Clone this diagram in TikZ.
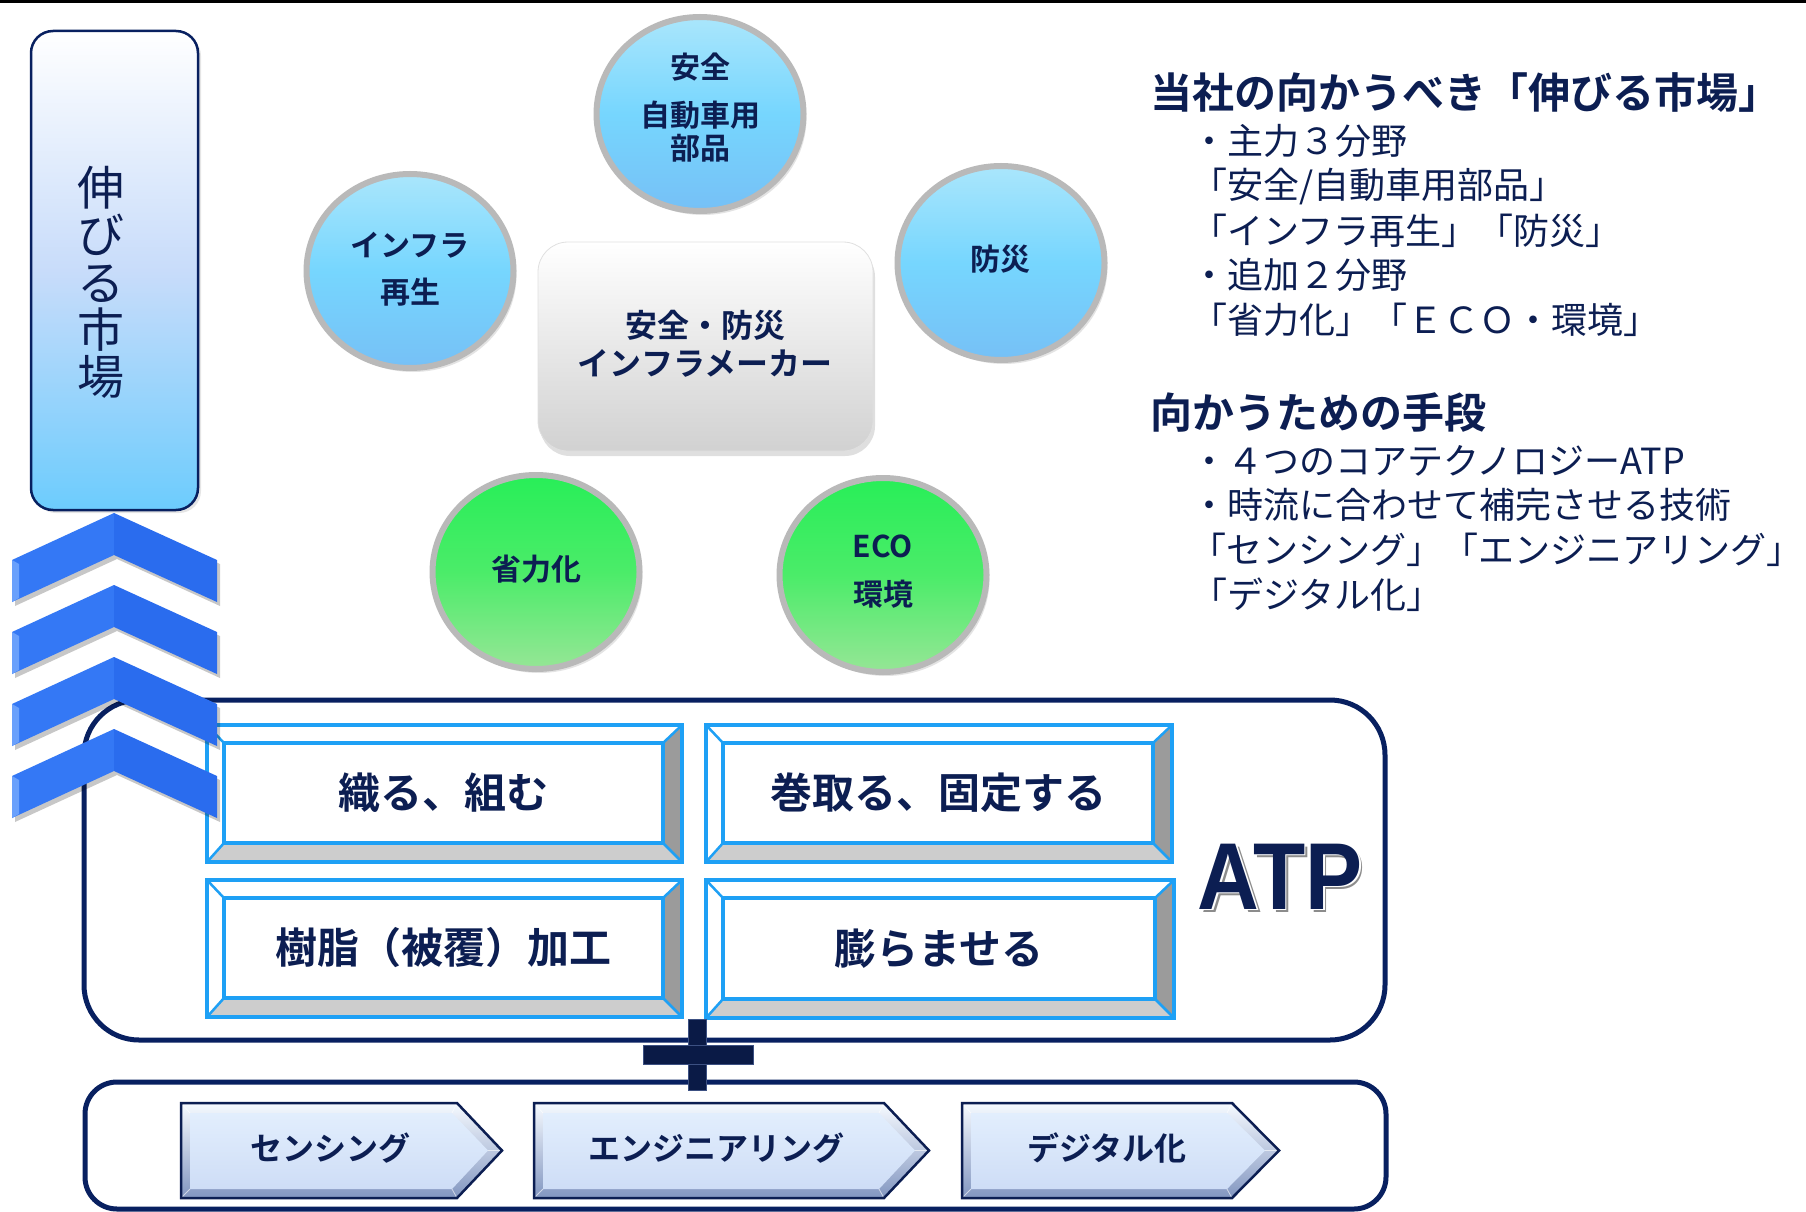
\documentclass[tikz,border=0pt]{standalone}
\usepackage{fontspec}
\usepackage{graphicx}
\setmainfont{Noto Sans CJK JP}[BoldFont={Noto Sans CJK JP Bold}]
\newfontfamily\atpfont{Liberation Sans}
\usetikzlibrary{shapes.geometric,shadows}
\definecolor{txtnavy}{RGB}{12,30,82}
\definecolor{bnavy}{RGB}{8,32,96}
\definecolor{cblue}{RGB}{30,160,245}
\definecolor{chevL}{RGB}{52,120,245}
\definecolor{chevR}{RGB}{42,108,238}
\definecolor{chevlite}{RGB}{105,160,252}
\definecolor{rimgray}{RGB}{185,185,185}
\definecolor{cbtop}{RGB}{170,230,252}
\definecolor{cbmid}{RGB}{118,214,254}
\definecolor{cbbot}{RGB}{118,192,246}
\definecolor{cgtop}{RGB}{40,238,88}
\definecolor{cgmid}{RGB}{75,236,105}
\definecolor{cgbot}{RGB}{150,230,150}
\definecolor{lbmid}{RGB}{200,220,250}
\definecolor{lbbot}{RGB}{108,204,253}
\definecolor{bevgray}{RGB}{155,155,155}
\definecolor{bevlight}{RGB}{205,205,205}
\definecolor{penttop}{RGB}{246,250,255}
\definecolor{pentbot}{RGB}{130,150,192}
\definecolor{pinntop}{RGB}{226,238,253}
\definecolor{pinnbot}{RGB}{206,221,246}
\definecolor{plusnavy}{RGB}{10,26,70}
\definecolor{plusedge}{RGB}{60,80,130}
\newcommand\setfs[2]{\fontsize{#1pt}{#2pt}\selectfont}
\tikzset{
  every node/.style={inner sep=0pt, outer sep=0pt},
  circtext/.style={text=txtnavy, font=\bfseries\setfs{30}{33}},
  bluecirc/.style={ellipse, minimum width=207pt, minimum height=194pt, draw=rimgray, line width=6pt,
    top color=cbtop, bottom color=cbbot, middle color=cbmid,
    drop shadow={opacity=0.22, shadow xshift=3pt, shadow yshift=-4pt}},
  greencirc/.style={ellipse, minimum width=207pt, minimum height=194pt, draw=rimgray, line width=6pt,
    top color=cgtop, bottom color=cgbot, middle color=cgmid,
    drop shadow={opacity=0.22, shadow xshift=3pt, shadow yshift=-4pt}},
  rhead/.style={anchor=west, text=txtnavy, font=\bfseries\setfs{42}{46}},
  rline/.style={anchor=west, text=txtnavy, font=\setfs{36}{40}},
  boxtext/.style={text=txtnavy, font=\bfseries\setfs{42}{46}},
  penttext/.style={text=txtnavy, font=\bfseries\setfs{32}{34}},
  navyframe/.style={draw=bnavy, line width=5pt},
}
\newcommand\bevbox[6]{%
  \fill[white] (#2,#3) rectangle (#4,#5);
  \fill[bevgray] (#4,#3) -- (#4,#5) -- (#4-19,#5-19) -- (#4-19,#3+18) -- cycle;
  \fill[bevlight] (#2,#5) -- (#4,#5) -- (#4-19,#5-19) -- (#2+17,#5-19) -- cycle;
  \draw[cblue, line width=2.5pt] (#2,#3) -- (#2+17,#3+18) (#4,#3) -- (#4-19,#3+18)
     (#2,#5) -- (#2+17,#5-19) (#4,#5) -- (#4-19,#5-19);
  \draw[cblue, line width=4pt] (#2+17,#3+18) rectangle (#4-19,#5-19);
  \draw[cblue, line width=4.5pt] (#2,#3) rectangle (#4,#5);
  \node[boxtext] (#1) at ({(#2+#4-2)/2},{(#3+#5-1)/2}) {#6};
}
\newcommand\pentbox[6]{%
  \shade[top color=penttop, bottom color=pentbot] (#2,1103) -- (#3,1103) -- (#4,1150.5) -- (#3,1198) -- (#2,1198) -- cycle;
  \shade[top color=pinntop, bottom color=pinnbot] (#2+9,1113) -- (#3-5,1113) -- (#4-14,1150.5) -- (#3-5,1189) -- (#2+9,1189) -- cycle;
  \draw[white, opacity=0.6, line width=0.8pt] (#2,1103) -- (#2+9,1113) (#3,1103) -- (#3-5,1113)
     (#4,1150.5) -- (#4-14,1150.5) (#2,1198) -- (#2+9,1189) (#3,1198) -- (#3-5,1189);
  \draw[txtnavy, line width=2.5pt] (#2,1103) -- (#3,1103) -- (#4,1150.5) -- (#3,1198) -- (#2,1198) -- cycle;
  \node[penttext] (#1) at (#6,1148) {#5};
}
\begin{document}
\begin{tikzpicture}[x=1pt,y=-1pt]
\useasboundingbox (0,0) rectangle (1806,1212);
\fill[white] (0,0) rectangle (1806,1212);
\fill[black] (0,0) rectangle (1806,3);

% left tall box
\node[rectangle, rounded corners=22pt, minimum width=167pt, minimum height=479pt, draw=bnavy, line width=2.5pt,
  top color=white, bottom color=lbbot, middle color=lbmid,
  drop shadow={opacity=0.2, shadow xshift=3pt, shadow yshift=-3pt}] (market) at (114.5,270.5) {};
\node[text=txtnavy, font=\setfs{47}{47.2}, align=center] (markettxt) at (101,282.5) {伸\\び\\る\\市\\場};

% circles
\node[bluecirc] (c1) at (700,114) {};
\node[bluecirc] (c2) at (410,271) {};
\node[bluecirc] (c3) at (1001,263) {};
\node[greencirc] (c4) at (536,572) {};
\node[greencirc] (c5) at (883,575) {};
\node[circtext] (c1a) at (700,67) {安全};
\node[circtext] (c1b) at (700,115) {自動車用};
\node[circtext] (c1c) at (700,148) {部品};
\node[circtext] (c2a) at (410,245) {インフラ};
\node[circtext] (c2b) at (410,292) {再生};
\node[circtext] (c3a) at (1000,259) {防災};
\node[circtext] (c4a) at (536,569) {省力化};
\node[circtext] (c5a) at (883,546) {ECO};
\node[circtext] (c5b) at (883,594) {環境};

% center box
\node[rectangle, rounded corners=30pt, minimum width=335pt, minimum height=209pt, draw=black!12, line width=0.8pt,
  top color=white, bottom color=black!18,
  drop shadow={opacity=0.25, shadow xshift=2pt, shadow yshift=-5pt}] (core) at (705.5,346.5) {};
\node[text=txtnavy, font=\bfseries\setfs{32}{36}] (corea) at (705,325) {安全・防災};
\node[text=txtnavy, font=\bfseries\setfs{32}{36}] (coreb) at (705,363) {インフラメーカー};

% right text
\node[rhead] (h1) at (1150,93) {当社の向かうべき「伸びる市場」};
\node[rline] (t1) at (1191,141) {・主力３分野};
\node[rline] (t2) at (1191,186) {「安全/自動車用部品」};
\node[rline] (t3) at (1191,231) {「インフラ再生」「防災」};
\node[rline] (t4) at (1191,275) {・追加２分野};
\node[rline] (t5) at (1191,320) {「省力化」「ＥＣＯ・環境」};
\node[rhead] (h2) at (1150,413) {向かうための手段};
\node[rline] (t6) at (1191,461) {・４つのコアテクノロジーATP};
\node[rline] (t7) at (1191,505) {・時流に合わせて補完させる技術};
\node[rline] (t8) at (1190,550) {「センシング」「エンジニアリング」};
\node[rline] (t9) at (1191,595) {「デジタル化」};

% ATP box
\node[rectangle, rounded corners=55pt, navyframe, minimum width=1301pt, minimum height=340pt] (atpbox) at (734.5,870) {};
\node[text=black!45, font=\atpfont\bfseries\setfs{95}{95}] (atpsh) at (1283.5,880) {\scalebox{0.9}[1]{ATP}};
\node[text=white, font=\atpfont\bfseries\setfs{95}{95}] (atpwh) at (1281.8,878.3) {\scalebox{0.9}[1]{ATP}};
\node[text=txtnavy, font=\atpfont\bfseries\setfs{95}{95}] (atp) at (1280,876.5) {\scalebox{0.9}[1]{ATP}};

% bevel boxes
\bevbox{b1}{207}{725}{682}{862}{織る、組む}
\bevbox{b2}{706}{725}{1172}{862}{巻取る、固定する}
\bevbox{b3}{207}{880}{682}{1017}{樹脂（被覆）加工}
\bevbox{b4}{706}{880}{1174}{1018}{膨らませる}

% chevrons
\foreach \y in {513,585,657,729}{
  \fill[black, opacity=0.22] (15,\y+51) -- (117,\y+4) -- (220,\y+51) -- (220,\y+93) -- (117,\y+46) -- (15,\y+93) -- cycle;
  \fill[chevL] (12,\y+47) -- (114,\y) -- (114,\y+42) -- (12,\y+89) -- cycle;
  \fill[chevR] (114,\y) -- (217,\y+47) -- (217,\y+89) -- (114,\y+42) -- cycle;
  \fill[chevlite] (12,\y+47) -- (19,\y+51) -- (19,\y+85) -- (12,\y+89) -- cycle;
}

% bottom box
\node[rectangle, rounded corners=32pt, navyframe, minimum width=1301pt, minimum height=127pt] (techbox) at (735.5,1145.5) {};
\pentbox{p1}{181}{457}{502}{センシング}{330}
\pentbox{p2}{534}{884}{929}{エンジニアリング}{716}
\pentbox{p3}{962}{1232}{1279}{デジタル化}{1107}

% plus sign
\fill[plusnavy, draw=plusedge, line width=1pt] (688,1019) rectangle (706,1090);
\fill[plusnavy, draw=plusedge, line width=1pt] (643,1045) rectangle (753,1064);
\fill[plusnavy] (689,1046) rectangle (705,1063);
\end{tikzpicture}
\end{document}
